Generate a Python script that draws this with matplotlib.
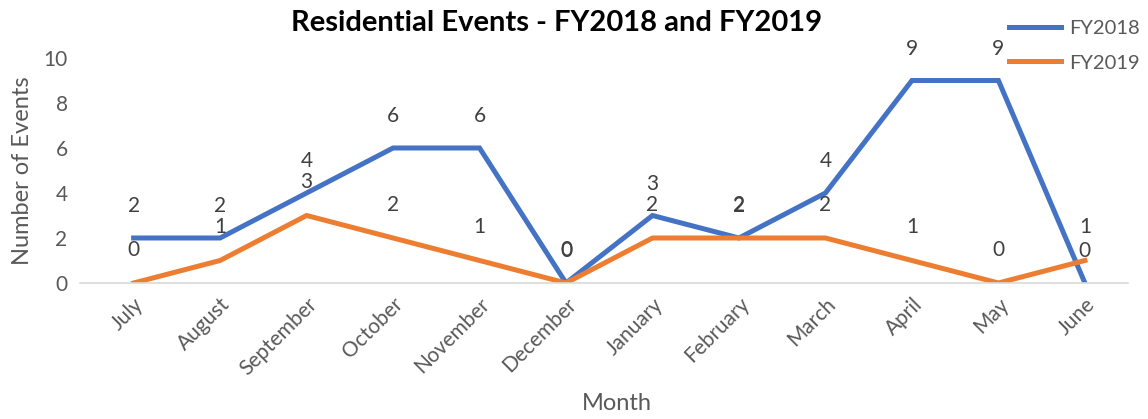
import numpy as np
import matplotlib.pyplot as plt

plt.rcParams['font.family'] = ['Lato', 'DejaVu Sans']

months = ['July', 'August', 'September', 'October', 'November', 'December',
          'January', 'February', 'March', 'April', 'May', 'June']
fy2018 = [2, 2, 4, 6, 6, 0, 3, 2, 4, 9, 9, 0]
fy2019 = [0, 1, 3, 2, 1, 0, 2, 2, 2, 1, 0, 1]

blue = '#4472C4'
orange = '#ED7D31'
grey = '#595959'

fig = plt.figure(figsize=(11.48, 4.19), dpi=100)
ax = fig.add_axes([0.0697, 0.3246, 0.913, 0.537])

x = np.arange(len(months))
ax.plot(x, fy2018, color=blue, lw=3.6, label='FY2018', solid_joinstyle='miter')
ax.plot(x, fy2019, color=orange, lw=3.6, label='FY2019', solid_joinstyle='miter')

for xi, v in zip(x, fy2018):
    ax.annotate(str(v), (xi, v), xytext=(0, 23), textcoords='offset points',
                ha='center', va='center', fontsize=15, color='#404040',
                annotation_clip=False)
for xi, v in zip(x, fy2019):
    ax.annotate(str(v), (xi, v), xytext=(0, 24), textcoords='offset points',
                ha='center', va='center', fontsize=15, color='#404040',
                annotation_clip=False)

ax.set_xlim(-0.62, 11.5)
ax.set_ylim(0, 10)
ax.set_yticks([0, 2, 4, 6, 8, 10])
ax.set_xticks(x)
ax.set_xticklabels(months, rotation=45, ha='right', rotation_mode='anchor')
ax.tick_params(axis='both', length=0, labelsize=15, colors=grey)
ax.tick_params(axis='y', pad=9)
ax.tick_params(axis='x', pad=8)

for s in ['top', 'right', 'left']:
    ax.spines[s].set_visible(False)
ax.spines['bottom'].set_color('#D9D9D9')
ax.spines['bottom'].set_linewidth(1.2)

ax.set_xlabel('Month', fontsize=17, color=grey)
ax.set_ylabel('Number of Events', fontsize=17, color=grey)
ax.xaxis.set_label_coords(0.512, -0.49)
ax.yaxis.set_label_coords(-0.045, 0.5)
fig.text(0.485, 0.945, 'Residential Events - FY2018 and FY2019', ha='center',
         va='center', fontsize=21, fontweight='bold', color='black')

leg = fig.legend(loc='upper right', bbox_to_anchor=(1.009, 0.995), frameon=False,
                 fontsize=14.5, handlelength=2.6, labelspacing=0.85,
                 handletextpad=0.4)
for t in leg.get_texts():
    t.set_color(grey)

fig.savefig('out.png', dpi=100)
